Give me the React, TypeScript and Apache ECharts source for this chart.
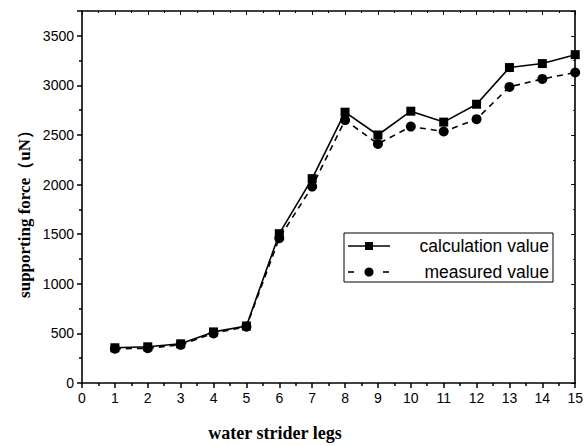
import React, { useEffect, useRef } from "react";
import * as echarts from "echarts";

const legs = [1, 2, 3, 4, 5, 6, 7, 8, 9, 10, 11, 12, 13, 14, 15];
const calculationValue = [355, 365, 395, 515, 575, 1505, 2060, 2730, 2500, 2740, 2630, 2810, 3180, 3220, 3310];
const measuredValue = [345, 350, 385, 500, 568, 1460, 1980, 2650, 2410, 2585, 2535, 2660, 2985, 3065, 3130];
const xTitle = "water strider legs";
const yTitle = "supporting force（uN）";
const legendNames = ["calculation value", "measured value"];

export default function App() {
  const ref = useRef<HTMLDivElement>(null);
  useEffect(() => {
    if (!ref.current) return;
    const chart = echarts.init(ref.current, null, { renderer: "svg" });
    const axisLine = { show: true, onZero: false, lineStyle: { color: "#000", width: 1.6 } };
    const labelFont = { color: "#000", fontFamily: "Liberation Sans, Arial", fontSize: 14 };
    chart.setOption({
      animation: false,
      backgroundColor: "#fff",
      grid: { left: 82, right: 6, top: 11, bottom: 63, containLabel: false },
      xAxis: [
        {
          type: "value", min: 0, max: 15, interval: 1, position: "bottom",
          axisLine, splitLine: { show: false },
          axisTick: { show: true, inside: false, length: 5, lineStyle: { color: "#000", width: 1.5 } },
          minorTick: { show: true, splitNumber: 2, length: 3, lineStyle: { color: "#000", width: 1.5 } },
          axisLabel: { ...labelFont, margin: 8 },
        },
        {
          type: "value", min: 0, max: 15, interval: 1, position: "top",
          axisLine, splitLine: { show: false },
          axisTick: { show: true, inside: true, length: 4, lineStyle: { color: "#000", width: 1 } },
          minorTick: { show: true, splitNumber: 2, length: 2, lineStyle: { color: "#000", width: 1 } },
          axisLabel: { show: false },
        },
      ],
      yAxis: [
        {
          type: "value", min: 0, max: 3750, interval: 500, position: "left",
          axisLine, splitLine: { show: false },
          axisTick: { show: true, inside: false, length: 5, lineStyle: { color: "#000", width: 1.5 } },
          minorTick: { show: true, splitNumber: 2, length: 3, lineStyle: { color: "#000", width: 1.5 } },
          axisLabel: { ...labelFont, margin: 8, formatter: (v: number) => (v % 500 === 0 ? String(v) : "") },
        },
        {
          type: "value", min: 0, max: 3750, interval: 500, position: "right",
          axisLine, splitLine: { show: false },
          axisTick: { show: true, inside: true, length: 4, lineStyle: { color: "#000", width: 1 } },
          minorTick: { show: true, splitNumber: 2, length: 2, lineStyle: { color: "#000", width: 1 } },
          axisLabel: { show: false },
        },
      ],
      series: [
        {
          name: legendNames[0], type: "line", xAxisIndex: 0, yAxisIndex: 0,
          data: legs.map((x, i) => [x, calculationValue[i]]),
          symbol: "rect", symbolSize: 9, clip: false,
          itemStyle: { color: "#000" },
          lineStyle: { color: "#000", width: 1.6, type: "solid" },
        },
        {
          name: legendNames[1], type: "line", xAxisIndex: 0, yAxisIndex: 0,
          data: legs.map((x, i) => [x, measuredValue[i]]),
          symbol: "circle", symbolSize: 10, clip: false,
          itemStyle: { color: "#000" },
          lineStyle: { color: "#000", width: 1.6, type: [6, 5] },
        },
      ],
      graphic: [
        {
          type: "rect", shape: { x: 344, y: 233, width: 209, height: 49 },
          style: { fill: "#fff", stroke: "#000", lineWidth: 1 }, z: 10,
        },
        { type: "line", shape: { x1: 348, y1: 246, x2: 390, y2: 246 }, style: { stroke: "#000", lineWidth: 1.6 }, z: 11 },
        { type: "rect", shape: { x: 365, y: 242, width: 8, height: 8 }, style: { fill: "#000" }, z: 11 },
        { type: "line", shape: { x1: 348, y1: 272, x2: 354, y2: 272 }, style: { stroke: "#000", lineWidth: 1.6 }, z: 11 },
        { type: "circle", shape: { cx: 369, cy: 272, r: 4.5 }, style: { fill: "#000" }, z: 11 },
        { type: "line", shape: { x1: 383, y1: 272, x2: 389, y2: 272 }, style: { stroke: "#000", lineWidth: 1.6 }, z: 11 },
        {
          type: "text", x: 549, y: 246, z: 11,
          style: { text: legendNames[0], fill: "#000", font: "17.5px 'Liberation Sans', Arial", align: "right", verticalAlign: "middle" },
        },
        {
          type: "text", x: 549, y: 272, z: 11,
          style: { text: legendNames[1], fill: "#000", font: "17.5px 'Liberation Sans', Arial", align: "right", verticalAlign: "middle" },
        },
        {
          type: "text", x: 275, y: 433, z: 11,
          style: { text: xTitle, fill: "#000", font: "bold 18px 'Liberation Serif', 'Times New Roman'", align: "center", verticalAlign: "middle" },
        },
        {
          type: "text", x: 24, y: 210, rotation: Math.PI / 2, z: 11,
          style: { text: yTitle, fill: "#000", font: "bold 17px 'Liberation Serif', 'Times New Roman'", align: "center", verticalAlign: "middle" },
        },
      ],
    });
    return () => chart.dispose();
  }, []);
  return <div ref={ref} style={{ width: 586, height: 446, position: "absolute", left: 0, top: 0 }} />;
}
